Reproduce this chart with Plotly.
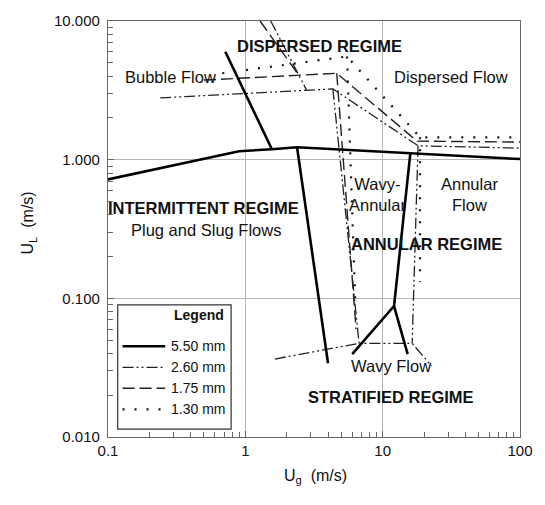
import numpy as np
import plotly.graph_objects as go

# ---- flow-regime transition boundaries, U_g vs U_L (m/s) ----
# 5.50 mm tube (solid)
d550_upper_x = [0.1, 0.90, 1.56, 2.38, 100]
d550_upper_y = [0.72, 1.15, 1.19, 1.23, 1.01]
d550_disp_x = [0.715, 1.56]
d550_disp_y = [6.0, 1.19]
d550_int_x = [2.38, 4.0]
d550_int_y = [1.23, 0.034]
d550_ann_x = [15.9, 12.1, 6.0]
d550_ann_y = [1.11, 0.088, 0.0396]
d550_wavy_x = [12.1, 15.2]
d550_wavy_y = [0.088, 0.0396]

# 2.60 mm tube (dash-dot-dot)
d260_bubble_x = [0.24, 4.34, 18.1, 100]
d260_bubble_y = [2.79, 3.24, 1.26, 1.21]
d260_disp_x = [1.53, 2.80]
d260_disp_y = [10.0, 3.16]
d260_left_x = [4.34, 6.73]
d260_left_y = [3.24, 0.0474]
d260_right_x = [18.1, 16.4]
d260_right_y = [1.26, 0.0474]
d260_strat_x = [1.64, 6.73, 16.4, 22.7]
d260_strat_y = [0.0365, 0.0474, 0.0474, 0.0325]

# 1.75 mm tube (long dash)
d175_bubble_x = [0.50, 4.63, 17.8, 100]
d175_bubble_y = [3.75, 4.2, 1.36, 1.34]
d175_disp_x = [1.28, 2.45]
d175_disp_y = [10.0, 4.06]
d175_left_x = [4.63, 6.4]
d175_left_y = [4.2, 0.06]

# 1.30 mm tube (dotted)
d130_bubble_x = [0.68, 5.5, 18.7, 100]
d130_bubble_y = [4.2, 5.55, 1.45, 1.45]
d130_left_x = [5.5, 6.3]
d130_left_y = [5.55, 0.10]
d130_right_x = [18.7, 18.7]
d130_right_y = [1.45, 0.131]

# axis tick labels
x_tickvals = [0.1, 1, 10, 100]
x_ticktext = ["0.1", "1", "10", "100"]
y_tickvals = [0.01, 0.1, 1, 10]
y_ticktext = ["0.010", "0.100", "1.000", "10.000"]

legend_labels = ["5.50 mm", "2.60 mm", "1.75 mm", "1.30 mm"]

FONT = "Liberation Sans, Arial, Helvetica, sans-serif"
W, H = 545, 505
L, R, T, B = 108, 12, 15, 68
PW, PH = W - L - R, H - T - B

STYLES = {
    "5.50 mm": dict(color="black", width=2.6, dash="solid"),
    "2.60 mm": dict(color="#222", width=1.3, dash="11px,3px,2px,3px,2px,3px"),
    "1.75 mm": dict(color="#222", width=1.4, dash="12px,5px"),
    "1.30 mm": dict(color="#111", width=2.2, dash="2px,10px"),
}


def joined(*pairs):
    xs, ys = [], []
    for px_, py_ in pairs:
        if xs:
            xs.append(None)
            ys.append(None)
        xs.extend(px_)
        ys.extend(py_)
    return xs, ys


series = {
    "5.50 mm": joined((d550_upper_x, d550_upper_y), (d550_disp_x, d550_disp_y),
                      (d550_int_x, d550_int_y), (d550_ann_x, d550_ann_y),
                      (d550_wavy_x, d550_wavy_y)),
    "2.60 mm": joined((d260_bubble_x, d260_bubble_y), (d260_disp_x, d260_disp_y),
                      (d260_left_x, d260_left_y), (d260_right_x, d260_right_y),
                      (d260_strat_x, d260_strat_y)),
    "1.75 mm": joined((d175_bubble_x, d175_bubble_y), (d175_disp_x, d175_disp_y),
                      (d175_left_x, d175_left_y)),
    "1.30 mm": joined((d130_bubble_x, d130_bubble_y), (d130_left_x, d130_left_y),
                      (d130_right_x, d130_right_y)),
}

fig = go.Figure()
for name in ["1.30 mm", "1.75 mm", "2.60 mm", "5.50 mm"]:
    xs, ys = series[name]
    fig.add_trace(go.Scatter(x=xs, y=ys, mode="lines", name=name,
                             line=STYLES[name], showlegend=False,
                             connectgaps=False))


def px(x):
    return (x - L) / PW


def py(y):
    return (H - B - y) / PH


# region labels (data coordinates)
labels = [
    ("DISPERSED REGIME", 3.45, 6.64, True),
    ("Bubble Flow", 0.283, 3.94, False),
    ("Dispersed Flow", 31.5, 3.94, False),
    ("INTERMITTENT REGIME", 0.492, 0.447, True),
    ("Plug and Slug Flows", 0.516, 0.311, False),
    ("Wavy-<br>Annular", 9.2, 0.557, False),
    ("Annular<br>Flow", 42.9, 0.557, False),
    ("ANNULAR REGIME", 20.7, 0.248, True),
    ("Wavy Flow", 11.5, 0.0325, False),
    ("STRATIFIED REGIME", 11.5, 0.0193, True),
]
for text, xv, yv, bold in labels:
    fig.add_annotation(x=np.log10(xv), y=np.log10(yv), xref="x", yref="y",
                       text=f"<b>{text}</b>" if bold else text,
                       showarrow=False, xanchor="center", yanchor="middle",
                       align="center",
                       font=dict(family=FONT, size=16.5, color="#111"))

# legend box
fig.add_shape(type="rect", xref="paper", yref="paper",
              x0=px(118), x1=px(235), y0=py(429), y1=py(303),
              line=dict(color="#333", width=1.2), fillcolor="white", layer="above")
fig.add_annotation(x=px(174), y=py(323), xref="paper", yref="paper",
                   text="<b>Legend</b>", showarrow=False,
                   font=dict(family=FONT, size=14, color="#111"))
for i, name in enumerate(legend_labels):
    yy = 345 + i * 21.3
    st = STYLES[name]
    fig.add_shape(type="line", xref="paper", yref="paper",
                  x0=px(123), x1=px(167), y0=py(yy), y1=py(yy),
                  line=dict(color=st["color"], width=st["width"],
                            dash=st["dash"]), layer="above")
    fig.add_annotation(x=px(171), y=py(yy), xref="paper", yref="paper",
                       text=name, showarrow=False, xanchor="left",
                       yanchor="middle",
                       font=dict(family=FONT, size=14, color="#111"))

# axis titles
fig.add_annotation(x=px(322), y=py(489), xref="paper", yref="paper",
                   text="U<sub>g</sub>  (m/s)", showarrow=False,
                   font=dict(family=FONT, size=16, color="#111"))
fig.add_annotation(x=px(14), y=py(220), xref="paper", yref="paper",
                   text="U<sub>L</sub>  (m/s)", showarrow=False, textangle=-90,
                   font=dict(family=FONT, size=16, color="#111"))

axis_common = dict(
    type="log", showline=True, linecolor="#666", linewidth=1.2, mirror=True,
    ticks="inside", ticklen=6, tickcolor="#666",
    showgrid=True, gridcolor="#b5b5b5", gridwidth=1,
    zeroline=False,
    tickfont=dict(family=FONT, size=15, color="#111"),
    minor=dict(ticks="inside", ticklen=5, tickcolor="#666", dtick="D1",
               showgrid=False),
)
fig.update_xaxes(range=[-1, 2], tickvals=x_tickvals, ticktext=x_ticktext,
                 **axis_common)
fig.update_yaxes(range=[-2, 1], tickvals=y_tickvals, ticktext=y_ticktext,
                 ticklabelstandoff=4, **axis_common)

fig.update_layout(
    width=W, height=H, margin=dict(l=L, r=R, t=T, b=B),
    paper_bgcolor="white", plot_bgcolor="white",
    font=dict(family=FONT, color="#111"),
)

fig.write_html("out.html")
